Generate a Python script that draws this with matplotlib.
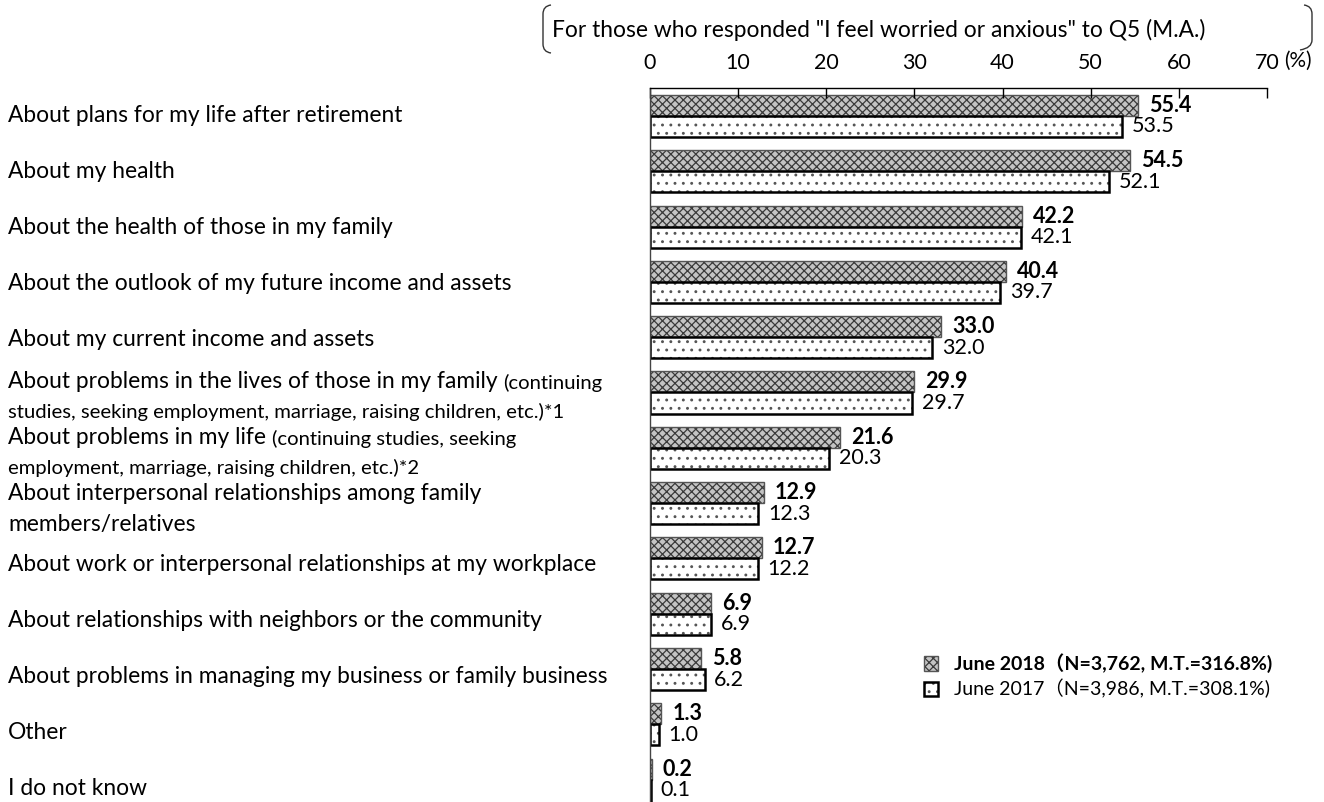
import matplotlib
matplotlib.use("Agg")
import matplotlib.pyplot as plt
from matplotlib.path import Path
import matplotlib.patches as patches
from matplotlib.legend_handler import HandlerTuple
from matplotlib.transforms import blended_transform_factory

plt.rcParams['font.family'] = ['Lato', 'Noto Sans CJK JP', 'DejaVu Sans']
plt.rcParams['hatch.linewidth'] = 0.9

# data
categories = [
    "About plans for my life after retirement",
    "About my health",
    "About the health of those in my family",
    "About the outlook of my future income and assets",
    "About my current income and assets",
    "About problems in the lives of those in my family",
    "About problems in my life",
    "About interpersonal relationships among family members/relatives",
    "About work or interpersonal relationships at my workplace",
    "About relationships with neighbors or the community",
    "About problems in managing my business or family business",
    "Other",
    "I do not know",
]
june_2018 = [55.4, 54.5, 42.2, 40.4, 33.0, 29.9, 21.6, 12.9, 12.7, 6.9, 5.8, 1.3, 0.2]
june_2017 = [53.5, 52.1, 42.1, 39.7, 32.0, 29.7, 20.3, 12.3, 12.2, 6.9, 6.2, 1.0, 0.1]
xticks = [0, 10, 20, 30, 40, 50, 60, 70]
legend_labels = ["June 2018（N=3,762, M.T.=316.8%)", "June 2017（N=3,986, M.T.=308.1%)"]
header = 'For those who responded "I feel worried or anxious" to Q5 (M.A.)'

W, H = 1324, 802
BIG = 16.4
SMALL = 14.6
VAL = 15.5


def fx(x):
    return x / W


def fy(y):
    return 1 - y / H


fig = plt.figure(figsize=(W / 100, H / 100), dpi=100)
ax = fig.add_axes([fx(650), 0, fx(1267) - fx(650), fy(88)])

n = len(categories)
pos = list(range(n))
bh = 0.38
y18 = [p - bh / 2 for p in pos]
y17 = [p + bh / 2 for p in pos]
b18 = ax.barh(y18, june_2018, height=bh, facecolor='#c4c4c4',
              edgecolor='#3a3a3a', hatch='xxxx', linewidth=0)
b18o = ax.barh(y18, june_2018, height=bh, fill=False, edgecolor='#555555', linewidth=1.0)
b17 = ax.barh(y17, june_2017, height=bh, facecolor='white',
              edgecolor='#555555', hatch='..', linewidth=0)
b17o = ax.barh(y17, june_2017, height=bh, fill=False, edgecolor='black', linewidth=1.8)

ax.set_xlim(0, 70)
ax.set_ylim(12.405, -0.506)

for p, v in zip(y18, june_2018):
    ax.annotate(f"{v:.1f}", (v, p), xytext=(8, 0), textcoords='offset points',
                va='center', ha='left', fontsize=VAL, fontweight='bold')
for p, v in zip(y17, june_2017):
    ax.annotate(f"{v:.1f}", (v, p), xytext=(7, 0), textcoords='offset points',
                va='center', ha='left', fontsize=VAL)

# axes styling
for s in ['right', 'bottom']:
    ax.spines[s].set_visible(False)
ax.spines['top'].set_linewidth(1.0)
ax.spines['left'].set_linewidth(1.0)
ax.spines['left'].set_color('#444444')
ax.set_yticks([])
ax.xaxis.tick_top()
ax.set_xticks(xticks)
ax.set_xticklabels([str(t) for t in xticks], fontsize=BIG - 1)
ax.tick_params(axis='x', direction='in', length=7, width=1.0, pad=11)
ax.annotate("(%)", xy=(1.0, fy(61)), xycoords=blended_transform_factory(ax.transAxes, fig.transFigure),
            xytext=(12.5, 0), textcoords='offset points', ha='left', va='center', fontsize=BIG - 1.5)

# category labels (spaced slightly wider than the bars, as in the original)
tr = blended_transform_factory(fig.transFigure, ax.transData)
lab_y = [p * 1.0127 for p in pos]
single = [0, 1, 2, 3, 4, 8, 9, 10, 11, 12]
for i in single:
    ax.text(fx(8), lab_y[i], categories[i], transform=tr, ha='left', va='center', fontsize=BIG)

up, dn = 0.27, 0.29
t5 = ax.text(fx(8), lab_y[5] - up, categories[5] + " ", transform=tr, ha='left',
             va='center', fontsize=BIG)
ax.annotate("(continuing", xy=(1, 0), xycoords=t5, va='bottom', ha='left', fontsize=SMALL)
ax.text(fx(8), lab_y[5] + dn, "studies, seeking employment, marriage, raising children, etc.)*1",
        transform=tr, ha='left', va='center', fontsize=SMALL)

t6 = ax.text(fx(8), lab_y[6] - up, categories[6] + " ", transform=tr, ha='left',
             va='center', fontsize=BIG)
ax.annotate("(continuing studies, seeking", xy=(1, 0), xycoords=t6, va='bottom', ha='left',
            fontsize=SMALL)
ax.text(fx(8), lab_y[6] + dn, "employment, marriage, raising children, etc.)*2",
        transform=tr, ha='left', va='center', fontsize=SMALL)

ax.text(fx(8), lab_y[7] - up, "About interpersonal relationships among family", transform=tr,
        ha='left', va='center', fontsize=BIG)
ax.text(fx(8), lab_y[7] + dn, "members/relatives", transform=tr, ha='left', va='center',
        fontsize=BIG)

# legend
leg = ax.legend([(b18[0], b18o[0]), (b17[0], b17o[0])], legend_labels,
                handler_map={tuple: HandlerTuple(ndivide=1, pad=0)},
                loc='upper left', bbox_to_anchor=(fx(906), fy(636)),
                bbox_transform=fig.transFigure, frameon=False, fontsize=14,
                handlelength=0.75, handleheight=0.75, handletextpad=0.8, labelspacing=0.3)
leg.get_texts()[0].set_fontweight('bold')

# header with bracket
fig.text(fx(552), fy(30), header, ha='left', va='center', fontsize=BIG)
lb = Path([(fx(551), fy(5)), (fx(543), fy(6)), (fx(543), fy(14)),
           (fx(543), fy(44)),
           (fx(543), fy(52)), (fx(551), fy(53))],
          [Path.MOVETO, Path.CURVE3, Path.CURVE3, Path.LINETO, Path.CURVE3, Path.CURVE3])
rb = Path([(fx(1304), fy(5)), (fx(1312), fy(6)), (fx(1312), fy(14)),
           (fx(1312), fy(40)),
           (fx(1312), fy(48)), (fx(1300), fy(50))],
          [Path.MOVETO, Path.CURVE3, Path.CURVE3, Path.LINETO, Path.CURVE3, Path.CURVE3])
for p in (lb, rb):
    fig.patches.append(patches.PathPatch(p, transform=fig.transFigure, fill=False,
                                         edgecolor='#333333', linewidth=1.0))

fig.savefig("out.png", dpi=100)
